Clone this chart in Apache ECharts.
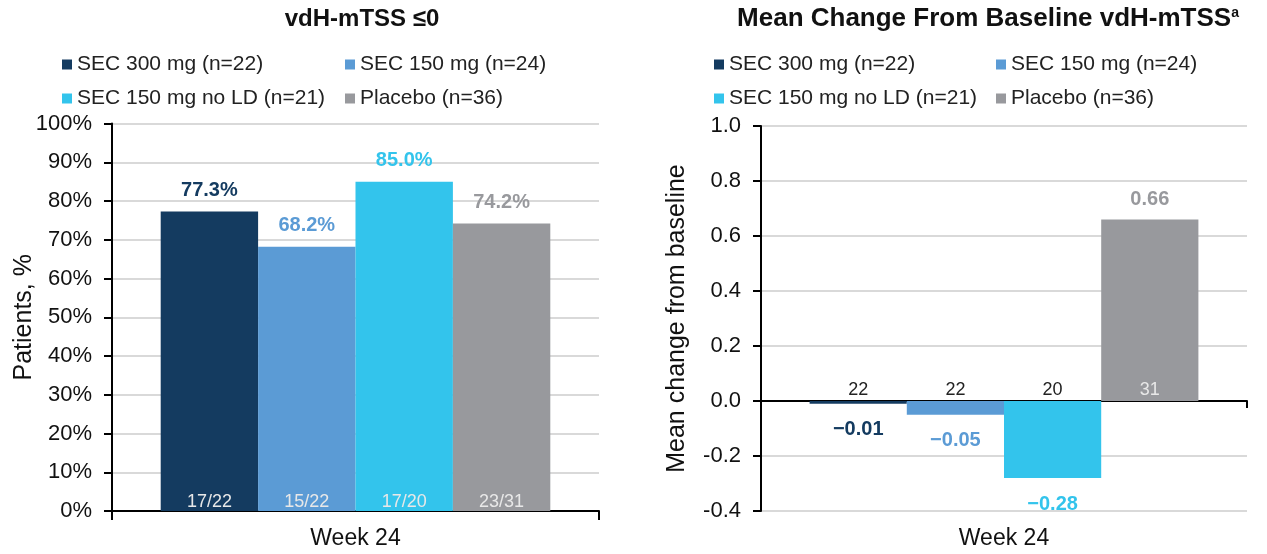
<!DOCTYPE html>
<html>
<head>
<meta charset="utf-8">
<script src="https://cdn.jsdelivr.net/npm/echarts@6/dist/echarts.min.js"></script>
<style>
  html, body { margin: 0; padding: 0; background: #ffffff; }
  .wrap { position: relative; width: 1267px; height: 554px; }
  #leftChart { position: absolute; left: 0; top: 0; width: 634px; height: 554px; }
  #rightChart { position: absolute; left: 634px; top: 0; width: 633px; height: 554px; }
</style>
</head>
<body>
<div class="wrap">
  <div id="leftChart"></div>
  <div id="rightChart"></div>
</div>
<script>
const categories = ['Week 24']
const seriesNames = ['SEC 300 mg (n=22)', 'SEC 150 mg (n=24)', 'SEC 150 mg no LD (n=21)', 'Placebo (n=36)']
const colors = ['#143b60', '#5b9bd5', '#33c4ec', '#98999d']

// left: vdH-mTSS <= 0 responders
const responderPct = [77.3, 68.2, 85.0, 74.2]
const responderFrac = ['17/22', '15/22', '17/20', '23/31']

// right: mean change from baseline
const meanChange = [-0.01, -0.05, -0.28, 0.66]
const changeN = ['22', '22', '20', '31']

const FONT = '"Liberation Sans", Arial, sans-serif'
const gridColor = '#d9d9d9'

const makeLegends = (x1, x2, y1, y2) => {
  const pos = [[x1, y1], [x2, y1], [x1, y2], [x2, y2]]
  return seriesNames.map((name, i) => ({
    data: [name],
    left: pos[i][0],
    top: pos[i][1],
    padding: 0,
    icon: 'rect',
    itemWidth: 10,
    itemHeight: 10,
    selectedMode: false,
    textStyle: { fontFamily: FONT, fontSize: 21, color: '#222' }
  }))
}

// each group = an invisible zero bar carrying the count label + the real bar, in one stack
const makeSeries = (values, valueFmt, countLabels, countColors, countDist, posDist, negDist) => {
  const out = []
  values.forEach((v, i) => {
    out.push({
      name: 'count-' + i,
      type: 'bar',
      stack: 'g' + i,
      z: 3,
      data: [0],
      itemStyle: { color: 'rgba(0,0,0,0)' },
      label: {
        show: true,
        position: 'top',
        distance: countDist,
        formatter: countLabels[i],
        fontFamily: FONT,
        fontSize: 18,
        color: countColors[i]
      },
      silent: true
    })
    out.push({
      name: seriesNames[i],
      type: 'bar',
      stack: 'g' + i,
      barGap: 0,
      barCategoryGap: '20%',
      itemStyle: { color: colors[i] },
      data: [{
        value: v,
        label: v < 0 ? { position: 'bottom', distance: negDist } : { position: 'top', distance: posDist }
      }],
      label: {
        show: true,
        formatter: p => valueFmt(p.value),
        fontFamily: FONT,
        fontSize: 20,
        fontWeight: 'bold',
        color: colors[i]
      }
    })
  })
  return out
}

const leftChart = echarts.init(document.getElementById('leftChart'))
leftChart.setOption({
  animation: false,
  title: {
    text: 'vdH-mTSS \u22640',
    left: 362,
    top: 7,
    padding: 0,
    textAlign: 'center',
    textStyle: { fontFamily: FONT, fontSize: 24, fontWeight: 'bold', color: '#111' }
  },
  legend: makeLegends(62, 345, 54, 88),
  grid: { left: 112, right: 35, top: 123.5, bottom: 43, outerBoundsMode: 'none', containLabel: false },
  xAxis: {
    type: 'category',
    data: categories,
    axisLine: { lineStyle: { color: '#000', width: 2 } },
    axisTick: { show: true, length: 9, lineStyle: { color: '#000', width: 2 } },
    axisLabel: { margin: 16, fontFamily: FONT, fontSize: 23, color: '#111' }
  },
  yAxis: {
    type: 'value',
    min: 0,
    max: 100,
    interval: 10,
    name: 'Patients, %',
    nameLocation: 'middle',
    nameGap: 75,
    nameMoveOverlap: false,
    nameTextStyle: { fontFamily: FONT, fontSize: 25, color: '#111' },
    axisLine: { show: true, lineStyle: { color: '#000', width: 2 } },
    axisTick: { show: true, length: 8, lineStyle: { color: '#000', width: 2 } },
    axisLabel: { margin: 20, formatter: '{value}%', fontFamily: FONT, fontSize: 22, color: '#111' },
    splitLine: { lineStyle: { color: gridColor, width: 2 } }
  },
  series: makeSeries(responderPct, v => v.toFixed(1) + '%', responderFrac,
    ['#e8e8e8', '#e8e8e8', '#e8e8e8', '#e8e8e8'], 0, 11, 11)
})

const rightChart = echarts.init(document.getElementById('rightChart'))
rightChart.setOption({
  animation: false,
  title: {
    text: 'Mean Change From Baseline vdH-mTSS{sup|a}',
    left: 354,
    top: 6,
    padding: 0,
    textAlign: 'center',
    textStyle: {
      fontFamily: FONT, fontSize: 26, fontWeight: 'bold', color: '#111',
      rich: {
        sup: { fontFamily: FONT, fontSize: 14, fontWeight: 'bold', color: '#111', verticalAlign: 'top', lineHeight: 26 }
      }
    }
  },
  legend: makeLegends(80, 362, 54, 88),
  grid: { left: 127, right: 20, top: 126, bottom: 43, outerBoundsMode: 'none', containLabel: false },
  xAxis: {
    type: 'category',
    data: categories,
    name: categories[0],
    nameLocation: 'middle',
    nameGap: 16,
    nameMoveOverlap: false,
    nameTextStyle: { fontFamily: FONT, fontSize: 23, color: '#111' },
    axisLine: { onZero: true, lineStyle: { color: '#000', width: 2 } },
    axisTick: { show: true, length: 7, lineStyle: { color: '#000', width: 2 } },
    axisLabel: { show: false }
  },
  yAxis: {
    type: 'value',
    min: -0.4,
    max: 1.0,
    interval: 0.2,
    name: 'Mean change from baseline',
    nameLocation: 'middle',
    nameGap: 71,
    nameMoveOverlap: false,
    nameTextStyle: { fontFamily: FONT, fontSize: 25, color: '#111' },
    axisLine: { show: true, onZero: false, lineStyle: { color: '#000', width: 2 } },
    axisTick: { show: true, length: 8, lineStyle: { color: '#000', width: 2 } },
    axisLabel: { margin: 20, formatter: v => v.toFixed(1), fontFamily: FONT, fontSize: 22, color: '#111' },
    splitLine: { lineStyle: { color: gridColor, width: 2 } }
  },
  series: makeSeries(meanChange, v => (v < 0 ? '\u2212' : '') + Math.abs(v).toFixed(2), changeN,
    ['#222', '#222', '#222', '#e8e8e8'], 2, 10, 16)
})

window.addEventListener('resize', () => {
  leftChart.resize()
  rightChart.resize()
})
</script>
</body>
</html>
